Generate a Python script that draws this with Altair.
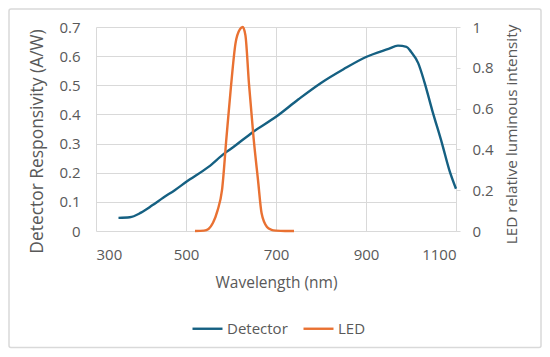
import altair as alt
import pandas as pd

det_wl = [350, 375, 400, 425, 450, 475, 500, 550, 587, 600, 649, 700, 750, 800, 850, 900, 950, 971, 990, 1000, 1016, 1030, 1047, 1069, 1085, 1100]
det_val = [0.045, 0.047, 0.063, 0.088, 0.115, 0.14, 0.168, 0.22, 0.268, 0.282, 0.34, 0.392, 0.452, 0.508, 0.555, 0.597, 0.625, 0.636, 0.632, 0.615, 0.576, 0.51, 0.415, 0.30, 0.21, 0.145]

led_wl = [520, 540, 550, 560, 570, 580, 590, 600, 610, 620, 626, 632, 640, 650, 660, 668, 680, 690, 700, 720, 740]
led_val = [0.0, 0.002, 0.01, 0.04, 0.1, 0.2, 0.46, 0.71, 0.92, 0.99, 1.0, 0.96, 0.72, 0.46, 0.25, 0.087, 0.02, 0.006, 0.002, 0.0, 0.0]

det = pd.DataFrame({"wl": det_wl, "val": det_val, "series": "Detector"})
led = pd.DataFrame({"wl": led_wl, "val": led_val, "series": "LED"})

FONT = "Open Sans"
GREY = "#595959"
GRID = "#D9D9D9"

color = alt.Color(
    "series:N",
    scale=alt.Scale(domain=["Detector", "LED"], range=["#156082", "#E97132"]),
    legend=alt.Legend(
        title=None, orient="none", direction="horizontal", legendX=95, legendY=285,
        symbolType="stroke", symbolSize=900, symbolStrokeWidth=2.4,
        labelFontSize=15, labelColor=GREY, labelFont=FONT, labelOffset=3, columnPadding=10,
    ),
)

xenc = alt.X(
    "wl:Q",
    scale=alt.Scale(domain=[300, 1100], nice=False),
    axis=alt.Axis(
        values=[300, 500, 700, 900, 1100], format="d", title="Wavelength (nm)", ticks=False, domain=False,
        labelPadding=16, titlePadding=13, titleFontSize=15.5, gridColor=GRID,
    ),
)

# chart-area frame (decoration, as in the spreadsheet chart)
frame = alt.Chart(pd.DataFrame({"k": [0]})).mark_rect(
    fill=None, stroke="#D9D9D9", strokeWidth=1.5, cornerRadius=2
).encode(
    x=alt.value(-87), x2=alt.value(445), y=alt.value(-18), y2=alt.value(320.5)
)

left = alt.Chart(det).mark_line(strokeWidth=2.4, interpolate="monotone").encode(
    x=xenc,
    y=alt.Y(
        "val:Q",
        scale=alt.Scale(domain=[0, 0.7], nice=False),
        axis=alt.Axis(
            values=[0, 0.1, 0.2, 0.3, 0.4, 0.5, 0.6, 0.7], format="~g",
            title="Detector Responsivity (A/W)", ticks=False, domain=False,
            labelPadding=16, titlePadding=12, titleFontSize=17.4, titleY=114, gridColor=GRID,
        ),
    ),
    color=color,
)

right = alt.Chart(led).mark_line(strokeWidth=2.4, interpolate="monotone").encode(
    x=xenc,
    y=alt.Y(
        "val:Q",
        scale=alt.Scale(domain=[0, 1], nice=False),
        axis=alt.Axis(
            orient="right", values=[0, 0.2, 0.4, 0.6, 0.8, 1], format="~g",
            title="LED relative luminous intensity", titleAngle=270, titleBaseline="top",
            titleFontSize=15.3, titleY=107, grid=False,
            domain=True, domainColor=GRID, ticks=True, tickColor=GRID, tickSize=4,
            labelPadding=12, titlePadding=11,
        ),
    ),
    color=color,
)

chart = (
    alt.layer(frame, left, right)
    .resolve_scale(y="independent")
    .properties(
        width=360, height=204,
        autosize=alt.AutoSizeParams(type="none"),
        padding={"left": 88, "top": 19, "right": 86, "bottom": 118},
    )
    .configure_view(stroke=None)
    .configure_axis(
        labelFont=FONT, titleFont=FONT, labelFontSize=15, titleFontSize=16,
        labelColor=GREY, titleColor=GREY, titleFontWeight="normal",
    )
)

chart.save("out.html", embed_options={"renderer": "svg", "actions": False})
